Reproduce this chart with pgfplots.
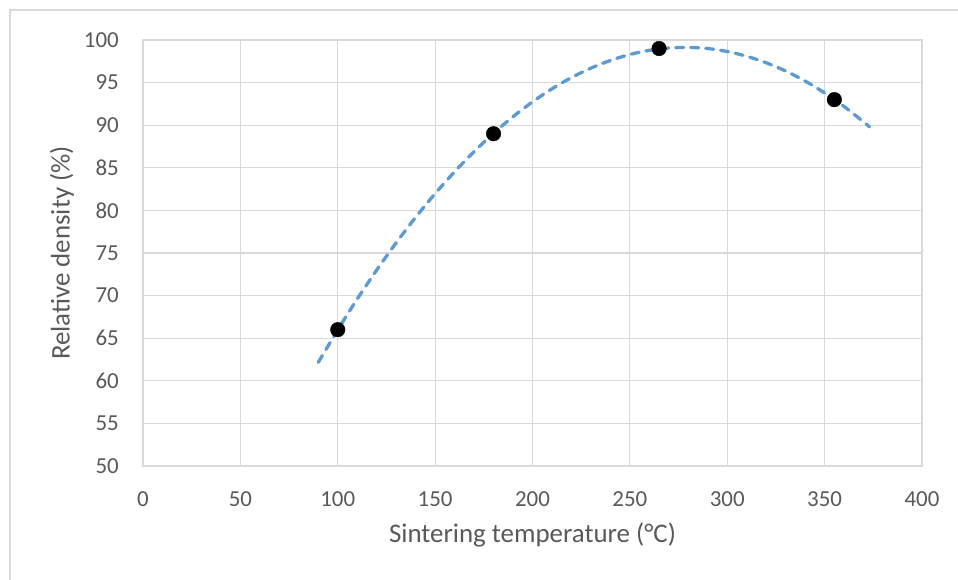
\documentclass[border=0pt]{standalone}
\usepackage{fontspec}
\setmainfont{Carlito}
\usepackage{pgfplots}
\pgfplotsset{compat=1.18}
\definecolor{gridc}{HTML}{D9D9D9}
\definecolor{txtc}{HTML}{595959}
\definecolor{trend}{HTML}{5B9BD5}
\definecolor{framec}{HTML}{D9D9D9}
\begin{document}
\begin{tikzpicture}
\useasboundingbox (0bp,0bp) rectangle (958bp,-580bp);
\fill[white] (0bp,0bp) rectangle (958bp,-580bp);
\draw[framec, line width=1.2bp] (10bp,-580bp) -- (10bp,-10bp) -- (958bp,-10bp);
\begin{axis}[
  at={(143bp,-466bp)}, anchor=south west,
  scale only axis, width=779bp, height=426bp,
  xmin=0, xmax=400, ymin=50, ymax=100,
  xtick={0,50,...,400}, ytick={50,55,...,100},
  grid=major, major grid style={gridc, line width=1.1bp},
  axis line style={gridc, line width=1.1bp},
  major tick length=0pt,
  tick label style={font=\fontsize{23}{27}\selectfont, text=txtc},
  /pgf/number format/assume math mode=true,
  yticklabel style={inner sep=0pt, anchor=east, xshift=-24bp},
  xticklabel style={inner sep=0pt, anchor=north, yshift=-25bp},
  xlabel={Sintering temperature (°C)},
  ylabel={Relative density (\%)},
  label style={font=\fontsize{27}{31}\selectfont, text=txtc, inner sep=0pt},
  xlabel style={at={(axis description cs:0.5,-0.162)}, anchor=center},
  ylabel style={at={(axis description cs:-0.104,0.5)}, anchor=center},
  clip=false,
]
\addplot[only marks, mark=*, mark size=7.3bp, mark options={fill=black, draw=black}] coordinates {
  (100,66) (180,89) (265,99) (355,93)
};
\addplot[trend, line width=3.3bp, line cap=round, dash pattern=on 8bp off 7bp, smooth] coordinates {
  (90,62.16) (100,65.98) (110,69.60) (120,73.00) (130,76.20) (140,79.19)
  (150,81.97) (160,84.54) (170,86.90) (180,89.05) (190,91.00) (200,92.74)
  (210,94.27) (220,95.59) (230,96.70) (240,97.60) (250,98.30) (260,98.79)
  (270,99.06) (280,99.13) (290,99.00) (300,98.65) (310,98.09) (320,97.33)
  (330,96.36) (340,95.18) (350,93.79) (360,92.19) (370,90.39) (373,89.80)
};
\end{axis}
\end{tikzpicture}
\end{document}
